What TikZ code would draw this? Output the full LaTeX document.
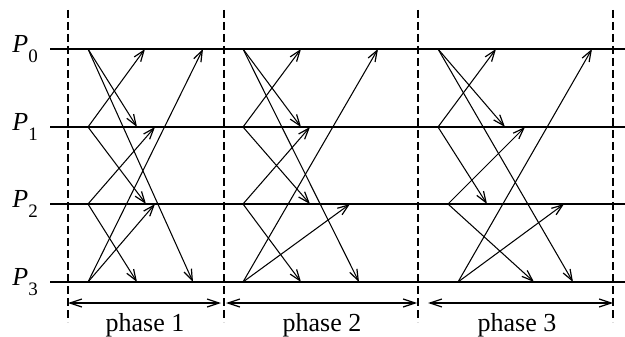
\documentclass[tikz,border=0pt]{standalone}
\usepackage{fontspec}
\setmainfont{Liberation Serif}
\usetikzlibrary{arrows.meta}
\begin{document}
\begin{tikzpicture}[x=1pt,y=-1pt,
  msg/.style={line width=1.05pt, -{Straight Barb[length=11pt,width=8pt,line width=1.2pt]}},
  proc/.style={line width=1.2pt},
  sep/.style={line width=1.6pt, dash pattern=on 8pt off 4pt},
  span/.style={line width=1.05pt, {Straight Barb[length=12pt,width=8pt,line width=1.2pt]}-{Straight Barb[length=12pt,width=8pt,line width=1.2pt]}},
  lab/.style={font=\fontsize{26}{29}\selectfont, inner sep=0pt}]
\useasboundingbox (0,0) rectangle (625,337);

% process lines
\foreach \i/\y in {0/49,1/127,2/204,3/282}{
  \coordinate (L\i) at (50,\y);
  \coordinate (R\i) at (625,\y);
  \draw[proc] (L\i) -- (R\i);
  \node[lab, anchor=east] (p\i) at (38,\y) {\textit{P}\raisebox{-0.36em}{\fontsize{19}{21}\selectfont\i}};
}

% phase separators
\foreach \k/\x in {1/68,2/224,3/418,4/613}{
  \coordinate (dt\k) at (\x,10);
  \coordinate (db\k) at (\x,322);
  \draw[sep] (dt\k) -- (db\k);
}

% messages: phase/from/to/start x/end x
\foreach \ph/\a/\b/\sx/\ex in {
  1/0/1/88/137, 1/0/3/88/193, 1/1/0/88/145, 1/1/2/88/146,
  1/2/1/88/155, 1/2/3/88/137, 1/3/0/88/203, 1/3/2/88/155,
  2/0/1/243/301, 2/0/3/243/359, 2/1/0/243/301, 2/1/2/243/310,
  2/2/1/243/310, 2/2/3/243/301, 2/3/0/243/378, 2/3/2/243/350,
  3/0/1/438/505, 3/0/3/438/573, 3/1/0/438/496, 3/1/2/438/487,
  3/2/1/448/525, 3/2/3/448/534, 3/3/0/458/592, 3/3/2/458/564}{
  \coordinate (s\ph\a\b) at (\sx, 0 |- L\a);
  \coordinate (e\ph\a\b) at (\ex, 0 |- L\b);
  \draw[msg] (s\ph\a\b) -- (e\ph\a\b);
}

% phase spans
\foreach \k/\xa/\xb/\xc in {1/68/221/145, 2/226/417/322, 3/428/613/517}{
  \coordinate (ha\k) at (\xa,303);
  \coordinate (hb\k) at (\xb,303);
  \draw[span] (ha\k) -- (hb\k);
  \node[lab, anchor=base] (ph\k) at (\xc,331) {phase \k};
}
\end{tikzpicture}
\end{document}
